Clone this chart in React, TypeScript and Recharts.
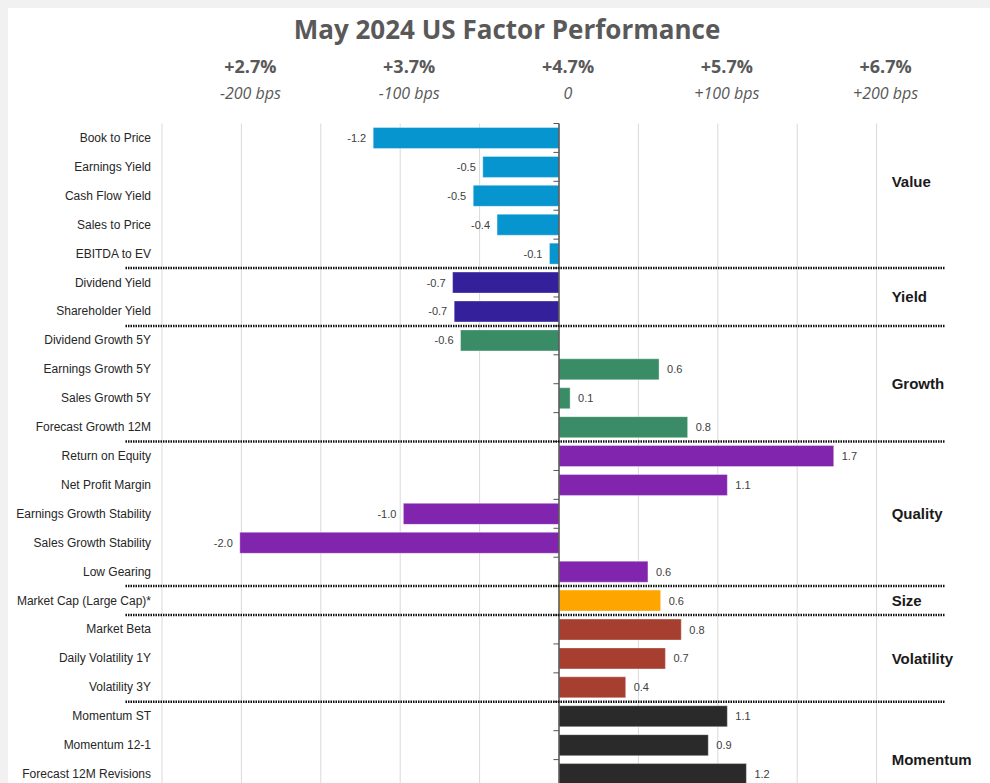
import React from "react";
import { Bar, BarChart, CartesianGrid, Cell, LabelList, ReferenceLine, XAxis, YAxis } from "recharts";

const factors = [
  "Book to Price",
  "Earnings Yield",
  "Cash Flow Yield",
  "Sales to Price",
  "EBITDA to EV",
  "Dividend Yield",
  "Shareholder Yield",
  "Dividend Growth 5Y",
  "Earnings Growth 5Y",
  "Sales Growth 5Y",
  "Forecast Growth 12M",
  "Return on Equity",
  "Net Profit Margin",
  "Earnings Growth Stability",
  "Sales Growth Stability",
  "Low Gearing",
  "Market Cap (Large Cap)*",
  "Market Beta",
  "Daily Volatility 1Y",
  "Volatility 3Y",
  "Momentum ST",
  "Momentum 12-1",
  "Forecast 12M Revisions",
];

// active return, % (labels show one decimal)
const returns = [
  -1.17, -0.48, -0.54, -0.39, -0.06, -0.67, -0.66, -0.62, 0.63, 0.07, 0.81, 1.73,
  1.06, -0.98, -2.01, 0.56, 0.64, 0.77, 0.67, 0.42, 1.06, 0.94, 1.18,
];

const factorGroup = [
  "Value", "Value", "Value", "Value", "Value",
  "Yield", "Yield",
  "Growth", "Growth", "Growth", "Growth",
  "Quality", "Quality", "Quality", "Quality", "Quality",
  "Size",
  "Volatility", "Volatility", "Volatility",
  "Momentum", "Momentum", "Momentum",
];

const groupColors: Record<string, string> = {
  Value: "#0795d0",
  Yield: "#33209a",
  Growth: "#3a8c66",
  Quality: "#8124ae",
  Size: "#ffa500",
  Volatility: "#a73f31",
  Momentum: "#2a2a2a",
};

// where each group name sits next to its bars
const groupLabels = [
  { name: "Value", factor: "Cash Flow Yield", position: "start" },
  { name: "Yield", factor: "Shareholder Yield", position: "start" },
  { name: "Growth", factor: "Sales Growth 5Y", position: "start" },
  { name: "Quality", factor: "Earnings Growth Stability", position: "middle" },
  { name: "Size", factor: "Market Cap (Large Cap)*", position: "middle" },
  { name: "Volatility", factor: "Daily Volatility 1Y", position: "middle" },
  { name: "Momentum", factor: "Forecast 12M Revisions", position: "start" },
];

const xDomain = [-2.5, 2.5];
const gridTicks = [-2.5, -2, -1.5, -1, -0.5, 0, 0.5, 1, 1.5, 2];
const topTicks = [-2, -1, 0, 1, 2];
const topPct = ["+2.7%", "+3.7%", "+4.7%", "+5.7%", "+6.7%"];
const topBps = ["-200 bps", "-100 bps", "0", "+100 bps", "+200 bps"];

const data = factors.map((name, i) => ({ name, value: returns[i], group: factorGroup[i] }));
const groupStarts = factors.filter((_, i) => i > 0 && factorGroup[i] !== factorGroup[i - 1]);

const TopTick = (props: any) => {
  const { x, y, payload } = props;
  const i = topTicks.indexOf(payload.value);
  if (i < 0) return <g />;
  return (
    <g>
      <text x={x + 9} y={y - 43} textAnchor="middle" fontFamily="'Open Sans', sans-serif" fontSize={18} fontWeight={700} fill="#595959">
        {topPct[i]}
      </text>
      <text x={x + 9} y={y - 17} textAnchor="middle" fontFamily="'Open Sans', sans-serif" fontSize={16} fontStyle="italic" fill="#595959">
        {topBps[i]}
      </text>
    </g>
  );
};

const FactorTick = (props: any) => {
  const { x, y, payload } = props;
  return (
    <text
      x={x}
      y={y}
      textAnchor="end"
      dominantBaseline="central"
      fontSize={12}
      fontFamily="'Liberation Sans', Arial, sans-serif"
      fill="#262626"
    >
      {payload.value}
    </text>
  );
};

const ValueLabel = (props: any) => {
  const { x, y, width, height, value } = props;
  const left = Math.min(x, x + width);
  const right = Math.max(x, x + width);
  const neg = value < 0;
  return (
    <text
      x={neg ? left - 7 : right + 8}
      y={y + height / 2}
      textAnchor={neg ? "end" : "start"}
      dominantBaseline="central"
      fontSize={11}
      fontFamily="'Liberation Sans', Arial, sans-serif"
      fill="#404040"
    >
      {Number(value).toFixed(1)}
    </text>
  );
};

// grid only at the listed ticks (no line at the right edge)
const gridX = ({ offset }: any) =>
  gridTicks.map((t) => offset.left + ((t - xDomain[0]) / (xDomain[1] - xDomain[0])) * offset.width);

export default function App() {
  return (
    <div style={{ position: "fixed", left: 0, top: 0, width: 990, height: 783, overflow: "hidden", background: "#f1f1f1" }}>
      <div style={{ position: "absolute", left: 8, top: 8, right: 0, bottom: 0, background: "#fff" }} />
      <div
        style={{
          position: "absolute",
          left: 0,
          top: 11,
          width: 1014,
          textAlign: "center",
          fontFamily: "'Open Sans', sans-serif",
          fontWeight: 700,
          fontSize: 26,
          color: "#595959",
        }}
      >
        May 2024 US Factor Performance
      </div>
      <div style={{ position: "absolute", left: 0, top: 0 }}>
        <BarChart
          width={990}
          height={794}
          data={data}
          layout="vertical"
          margin={{ top: 40, right: 34, bottom: 5.5, left: 0 }}
        >
          <CartesianGrid horizontal={false} stroke="#d9d9d9" verticalCoordinatesGenerator={gridX} />
          <XAxis
            type="number"
            orientation="top"
            domain={xDomain}
            ticks={gridTicks}
            interval={0}
            axisLine={false}
            tickLine={false}
            height={83.5}
            tick={<TopTick />}
          />
          <YAxis
            type="category"
            dataKey="name"
            width={162}
            interval={0}
            axisLine={false}
            tickLine={false}
            tickMargin={5}
            tick={<FactorTick />}
          />
          <Bar dataKey="value" barSize={21} isAnimationActive={false} stroke="rgba(255,255,255,0.35)" strokeWidth={1}>
            {data.map((d) => (
              <Cell key={d.name} fill={groupColors[d.group]} />
            ))}
            <LabelList dataKey="value" content={<ValueLabel />} />
          </Bar>
          <ReferenceLine x={0} stroke="#555" strokeWidth={1.5} />
          {factors.map((f) => (
            <ReferenceLine
              key={"tick-" + f}
              segment={[{ x: -0.035, y: f }, { x: 0, y: f }]}
              position="start"
              stroke="#555"
              strokeWidth={1}
              ifOverflow="visible"
            />
          ))}
          {groupStarts.map((f) => (
            <ReferenceLine
              key={"sep-" + f}
              segment={[{ x: -2.73, y: f }, { x: 2.43, y: f }]}
              position="start"
              stroke="#111"
              strokeWidth={2.5}
              strokeDasharray="1.5 1"
              ifOverflow="visible"
            />
          ))}
          {groupLabels.map((g) => (
            <ReferenceLine
              key={"grp-" + g.name}
              segment={[{ x: 2.095, y: g.factor }, { x: 2.1, y: g.factor }]}
              position={g.position as any}
              stroke="none"
              ifOverflow="visible"
              label={(p: any) => (
                <text
                  x={p.viewBox.x}
                  y={p.viewBox.y}
                  dominantBaseline="central"
                  fontSize={15}
                  fontWeight={700}
                  fontFamily="'Liberation Sans', Arial, sans-serif"
                  fill="#1a1a1a"
                >
                  {g.name}
                </text>
              )}
            />
          ))}
        </BarChart>
      </div>
    </div>
  );
}
